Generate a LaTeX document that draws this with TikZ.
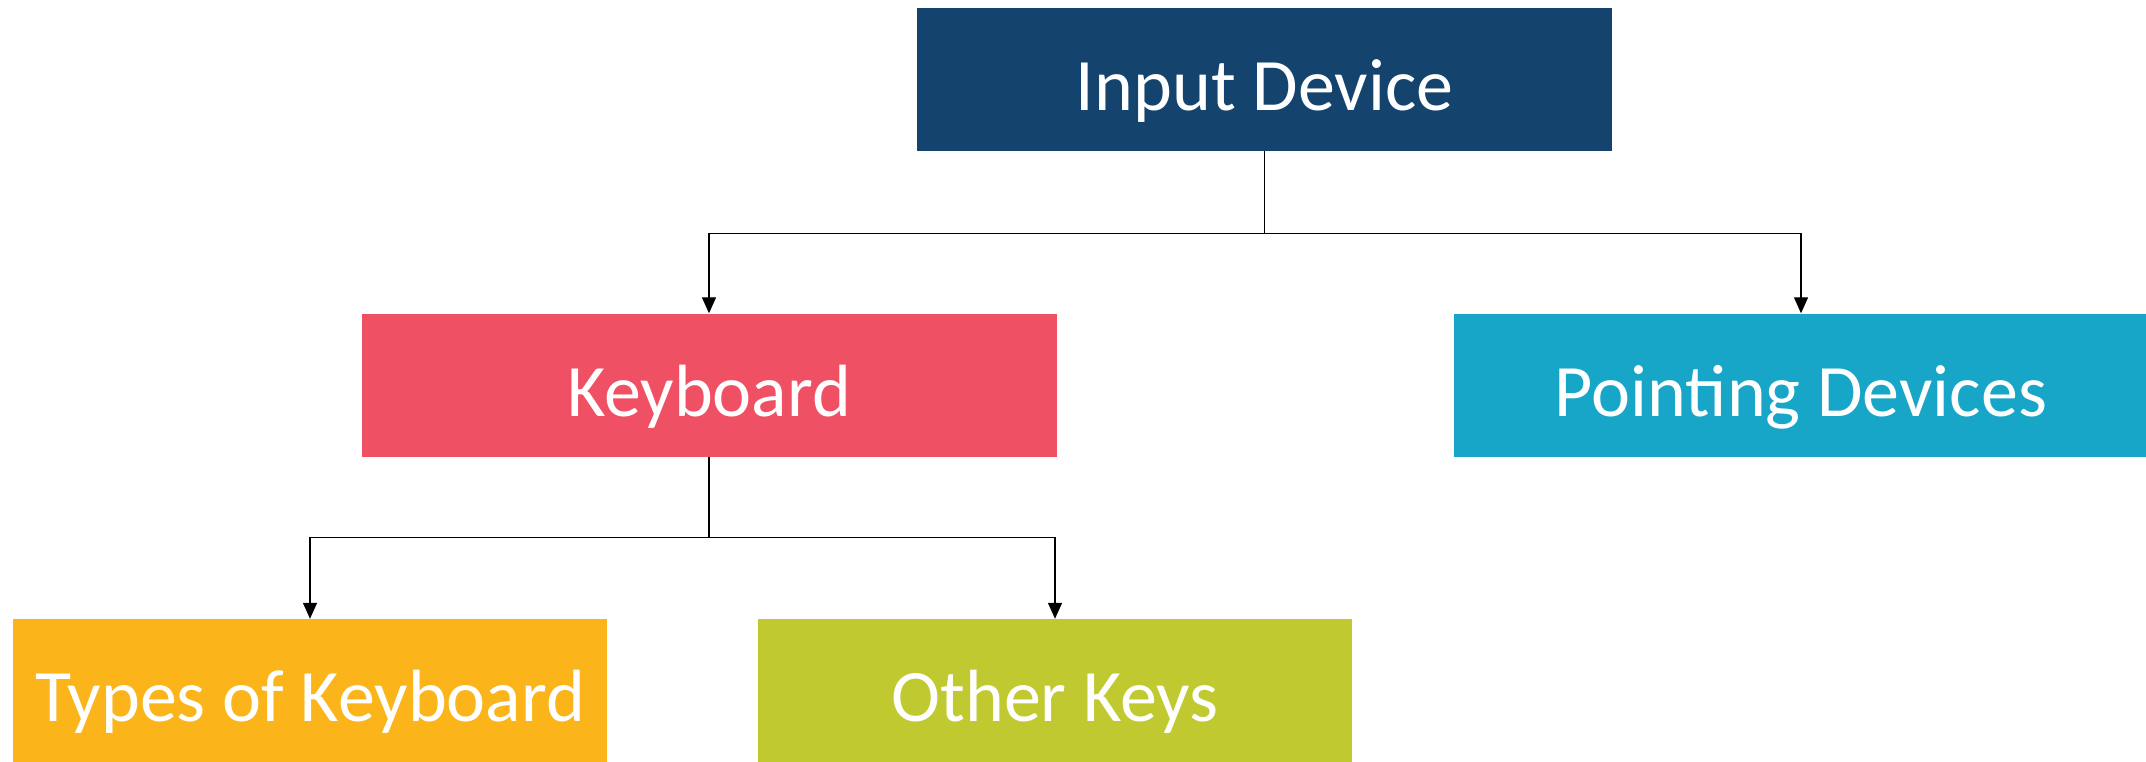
\documentclass[tikz,border=0pt]{standalone}
\usepackage{fontspec}
\setmainfont{Carlito}
\usetikzlibrary{arrows.meta}
\definecolor{cInput}{HTML}{14436E}
\definecolor{cKey}{HTML}{F05064}
\definecolor{cPoint}{HTML}{17A5C8}
\definecolor{cTypes}{HTML}{FBB419}
\definecolor{cOther}{HTML}{C0CA30}
\tikzset{
  box/.style={rectangle, inner sep=0pt, text=white,
    font=\fontsize{74}{88}\selectfont,
    text height=62pt, text depth=0pt},
  wide/.style={box, minimum width=695pt, minimum height=143pt},
  narrow/.style={box, minimum width=594pt, minimum height=143pt},
  conn/.style={draw=black, line width=1.3pt,
    -{Triangle[length=16pt,width=14pt]}}
}
\begin{document}
\begin{tikzpicture}[x=1pt,y=-1pt]
  \useasboundingbox (0,0) rectangle (2146,762);
  \clip (0,0) rectangle (2146,762);

  \node[wide, fill=cInput]  (input) at (1264.6,79.5) {Input Device};
  \node[wide, fill=cKey]    (kbd)   at (709,385)     {Keyboard};
  \node[wide, fill=cPoint]  (point) at (1801,385)    {Pointing Devices};
  \node[narrow, fill=cTypes] (types) at (310,690.5)  {Types of Keyboard};
  \node[narrow, fill=cOther] (other) at (1055,690.5) {Other Keys};

  % level 1 -> level 2
  \draw[conn] (input.south) -- ++(0,82) -| (kbd.north);
  \draw[conn] (input.south) -- ++(0,82) -| (point.north);
  % level 2 -> level 3
  \draw[conn] (kbd.south) -- ++(0,81) -| (types.north);
  \draw[conn] (kbd.south) -- ++(0,81) -| (other.north);
\end{tikzpicture}
\end{document}
